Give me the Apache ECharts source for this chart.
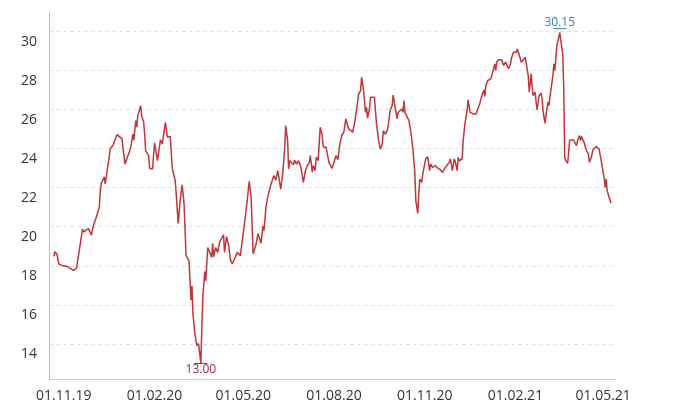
<!DOCTYPE html>
<html>
<head>
<meta charset="utf-8">
<script src="https://cdn.jsdelivr.net/npm/echarts@6/dist/echarts.min.js"></script>
<style>
html,body{margin:0;padding:0;background:#fff;}
#chart{width:677px;height:417px;}
</style>
</head>
<body>
<div id="chart"></div>
<script>
const dates = [
'2019-10-22','2019-10-23','2019-10-25','2019-10-27','2019-10-30',
'2019-11-04','2019-11-07','2019-11-11','2019-11-14','2019-11-16','2019-11-20','2019-11-21','2019-11-23','2019-11-26','2019-11-29',
'2019-12-01','2019-12-04','2019-12-07','2019-12-08','2019-12-09','2019-12-12','2019-12-13','2019-12-15','2019-12-17','2019-12-18','2019-12-21','2019-12-25','2019-12-26','2019-12-30','2019-12-31',
'2020-01-02','2020-01-04','2020-01-07','2020-01-08','2020-01-10','2020-01-11','2020-01-13','2020-01-14','2020-01-15','2020-01-16','2020-01-18','2020-01-19','2020-01-21','2020-01-22','2020-01-23','2020-01-26','2020-01-27','2020-01-30',
'2020-02-01','2020-02-04','2020-02-07','2020-02-09','2020-02-12','2020-02-14','2020-02-17','2020-02-19','2020-02-22','2020-02-23','2020-02-25','2020-02-27','2020-02-29',
'2020-03-02','2020-03-04','2020-03-06','2020-03-07','2020-03-09','2020-03-10','2020-03-11','2020-03-13','2020-03-15','2020-03-16','2020-03-17','2020-03-19','2020-03-20','2020-03-21','2020-03-23','2020-03-24','2020-03-26','2020-03-28','2020-03-30','2020-03-31',
'2020-04-01','2020-04-03','2020-04-05','2020-04-07','2020-04-09','2020-04-11','2020-04-12','2020-04-14','2020-04-16','2020-04-18','2020-04-20','2020-04-23','2020-04-25','2020-04-28','2020-04-30',
'2020-05-03','2020-05-05','2020-05-07','2020-05-09','2020-05-11','2020-05-14','2020-05-16','2020-05-19','2020-05-21','2020-05-22','2020-05-24','2020-05-26','2020-05-29','2020-05-31',
'2020-06-01','2020-06-03','2020-06-05','2020-06-07','2020-06-08','2020-06-10','2020-06-12','2020-06-13','2020-06-15','2020-06-16','2020-06-17','2020-06-19','2020-06-21','2020-06-22','2020-06-24','2020-06-26','2020-06-28','2020-06-29',
'2020-07-01','2020-07-03','2020-07-05','2020-07-07','2020-07-08','2020-07-10','2020-07-11','2020-07-13','2020-07-14','2020-07-16','2020-07-18','2020-07-20','2020-07-21','2020-07-24','2020-07-25','2020-07-27','2020-07-29','2020-07-30',
'2020-08-01','2020-08-03','2020-08-05','2020-08-07','2020-08-09','2020-08-11','2020-08-13','2020-08-15','2020-08-16','2020-08-18','2020-08-20','2020-08-22','2020-08-24','2020-08-26','2020-08-28','2020-08-29','2020-08-31',
'2020-09-02','2020-09-03','2020-09-04','2020-09-06','2020-09-07','2020-09-09','2020-09-11','2020-09-13','2020-09-15','2020-09-17','2020-09-19','2020-09-20','2020-09-22','2020-09-24','2020-09-25','2020-09-27','2020-09-29','2020-09-30',
'2020-10-02','2020-10-04','2020-10-05','2020-10-07','2020-10-09','2020-10-10','2020-10-11','2020-10-12','2020-10-14','2020-10-16','2020-10-18','2020-10-20','2020-10-22','2020-10-23','2020-10-25','2020-10-26','2020-10-27','2020-10-29','2020-10-30',
'2020-11-01','2020-11-02','2020-11-03','2020-11-04','2020-11-06','2020-11-07','2020-11-09','2020-11-11','2020-11-12','2020-11-14','2020-11-16','2020-11-17','2020-11-19','2020-11-21','2020-11-22','2020-11-24','2020-11-26','2020-11-27','2020-11-28','2020-11-29',
'2020-12-01','2020-12-02','2020-12-04','2020-12-05','2020-12-06','2020-12-08','2020-12-09','2020-12-10','2020-12-12','2020-12-14','2020-12-15','2020-12-17','2020-12-20','2020-12-23','2020-12-25','2020-12-27','2020-12-29','2020-12-31',
'2021-01-01','2021-01-02','2021-01-04','2021-01-06','2021-01-07','2021-01-09','2021-01-10','2021-01-11','2021-01-12','2021-01-13','2021-01-15','2021-01-17','2021-01-18','2021-01-20','2021-01-22','2021-01-23','2021-01-25','2021-01-27','2021-01-28','2021-01-30',
'2021-02-01','2021-02-02','2021-02-03','2021-02-05','2021-02-07','2021-02-09','2021-02-11','2021-02-13','2021-02-14','2021-02-15','2021-02-17','2021-02-18','2021-02-19','2021-02-21','2021-02-22','2021-02-23','2021-02-25','2021-02-27','2021-02-28',
'2021-03-01','2021-03-03','2021-03-04','2021-03-06','2021-03-07','2021-03-08','2021-03-10','2021-03-11','2021-03-12','2021-03-13','2021-03-15','2021-03-17','2021-03-18','2021-03-19','2021-03-21','2021-03-22','2021-03-23','2021-03-24','2021-03-26','2021-03-27','2021-03-28','2021-03-30',
'2021-04-01','2021-04-03','2021-04-04','2021-04-05','2021-04-07','2021-04-08','2021-04-09','2021-04-10','2021-04-12','2021-04-13','2021-04-14','2021-04-16','2021-04-17','2021-04-19','2021-04-20','2021-04-21','2021-04-23','2021-04-24','2021-04-25','2021-04-27','2021-04-28','2021-04-29',
'2021-05-01','2021-05-02','2021-05-03','2021-05-04','2021-05-05','2021-05-07','2021-05-09'
];
const prices = [
18.48,18.72,18.6,18.09,18.02,
17.98,17.88,17.76,17.9,17.97,19.88,19.74,19.76,19.9,19.57,
20.05,20.5,21.0,21.85,22.22,22.55,22.2,22.24,23.55,23.98,24.19,24.72,24.7,24.5,24.41,
23.22,23.5,23.9,24.07,24.75,24.44,25.44,25.1,25.69,25.77,26.2,25.69,25.35,24.75,23.9,23.64,23.0,22.96,
24.3,23.39,24.45,24.24,25.35,24.6,24.62,23.0,22.36,21.68,20.17,21.33,22.15,
21.16,18.51,18.6,18.26,16.24,16.97,15.52,14.5,13.9,14.02,13.9,13.0,14.84,16.38,17.71,17.23,18.94,19.03,18.43,19.15,
18.46,18.94,18.68,19.2,19.28,19.59,18.68,19.49,19.11,18.3,18.1,18.45,18.69,18.51,18.6,
20.48,21.33,22.33,21.5,18.6,19.11,19.66,19.15,20.05,19.8,20.99,21.59,22.15,22.19,
22.62,22.39,22.87,22.96,21.93,22.7,23.98,25.18,24.41,22.96,23.39,23.3,23.18,23.42,23.21,23.38,23.13,22.87,
22.27,22.87,23.13,23.3,23.64,22.79,23.13,22.87,23.56,23.39,25.1,24.7,24.1,24.07,23.98,23.27,23.33,22.99,
23.3,23.64,23.44,24.24,24.7,24.84,25.52,25.44,25.01,24.92,24.84,25.35,26.03,26.8,26.97,27.66,26.97,
25.86,26.12,25.56,26.03,26.63,26.72,26.63,25.35,24.5,23.98,24.24,24.92,24.75,24.92,25.18,25.95,26.21,26.75,
26.12,25.52,25.86,25.78,26.03,25.86,26.46,25.86,25.78,25.44,24.84,23.98,22.79,21.33,20.68,21.68,22.44,22.27,22.7,
23.21,23.47,23.38,23.59,22.87,23.21,23.04,22.96,23.13,23.01,23.08,22.91,22.79,22.84,23.04,23.08,23.3,23.47,23.21,22.87,
23.47,23.35,22.87,23.56,23.38,23.35,23.47,24.41,25.35,25.95,26.5,25.86,25.78,25.78,25.86,26.33,26.72,27.01,
26.67,27.23,27.49,27.57,27.57,27.91,28.0,28.34,28.0,28.43,28.55,28.55,28.55,28.26,28.43,28.34,28.09,28.34,28.65,28.94,
28.85,28.94,29.11,28.77,28.43,28.55,28.68,28.65,27.74,26.89,27.83,27.15,26.72,26.89,26.38,25.98,26.72,26.84,26.55,
25.95,25.3,25.69,26.38,26.2,26.67,26.72,27.74,28.34,28.0,29.28,29.71,29.95,29.54,28.85,27.15,23.56,23.39,23.25,23.81,24.44,24.5,
24.44,24.41,24.15,24.41,24.67,24.41,24.62,24.67,24.27,24.07,23.9,23.73,23.3,23.56,23.81,23.98,23.9,24.1,24.15,23.98,23.64,23.39,
22.79,22.53,22.02,22.44,21.85,21.51,21.2
];
const xTickDates = ['2019-11-01','2020-02-01','2020-05-01','2020-08-01','2020-11-01','2021-02-01','2021-05-01'];
const yTicks = [14,16,18,20,22,24,26,28,30];
const xRange = ['2019-10-17','2021-05-14'];
const yRange = [12.2, 31];
const maxPoint = {date:'2021-03-18', value:30.15};
const minPoint = {date:'2020-03-19', value:13.00};

function fmtDate(v){
  const d = new Date(v);
  const p = n => String(n).padStart(2,'0');
  return p(d.getUTCDate()) + '.' + p(d.getUTCMonth()+1) + '.' + p(d.getUTCFullYear()%100);
}

const chart = echarts.init(document.getElementById('chart'), null, {renderer:'canvas'});
const font = "'Open Sans', sans-serif";
chart.setOption({
  animation:false,
  backgroundColor:'#fff',
  grid:{left:49, right:61, top:12, bottom:38, containLabel:false},
  xAxis:{
    type:'value',
    min:Date.parse(xRange[0]), max:Date.parse(xRange[1]),
    axisLine:{show:true, lineStyle:{color:'#cccccc', width:1}},
    axisTick:{show:false},
    splitLine:{show:false},
    axisLabel:{customValues:xTickDates.map(d=>Date.parse(d)), formatter:fmtDate, color:'#333', fontSize:14, fontFamily:font, margin:10}
  },
  yAxis:{
    type:'value',
    min:yRange[0], max:yRange[1],
    axisLine:{show:true, lineStyle:{color:'#bbbbbb', width:1}},
    axisTick:{show:false, customValues:yTicks},
    axisLabel:{customValues:yTicks, color:'#333', fontSize:14, fontFamily:font, margin:12, verticalAlign:'top', lineHeight:20},
    splitLine:{show:true, lineStyle:{type:[4,3], color:'#e2e2e2', width:1}}
  },
  series:[{
    type:'line',
    data:dates.map((d,i)=>[Date.parse(d), prices[i]]),
    symbol:'none',
    lineStyle:{color:'#c0363a', width:1.5},
    markPoint:{
      symbol:'rect',
      symbolSize:[13,1],
      label:{show:true, fontSize:12, fontFamily:font, formatter:p=>Number(p.value).toFixed(2)},
      data:[
        {coord:[Date.parse(maxPoint.date), maxPoint.value], value:maxPoint.value,
         itemStyle:{color:'#2f80b5'}, label:{position:'top', distance:0, color:'#2f80b5'}},
        {coord:[Date.parse(minPoint.date), minPoint.value], value:minPoint.value,
         itemStyle:{color:'#9c2552'}, label:{position:'bottom', distance:0, color:'#9c2552'}}
      ]
    }
  }]
});
</script>
</body>
</html>
